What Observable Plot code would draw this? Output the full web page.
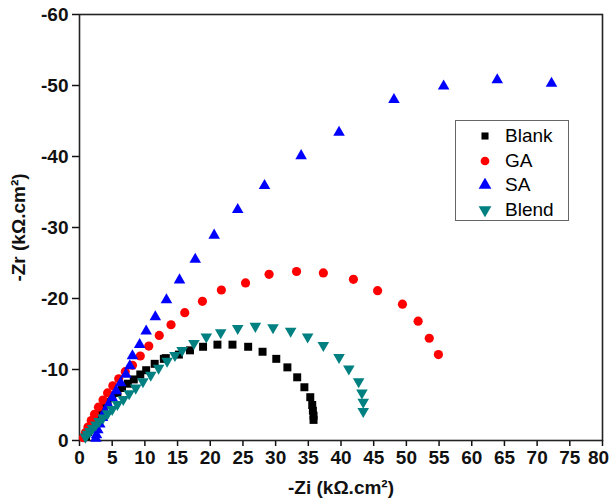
<!DOCTYPE html>
<html>
<head>
<meta charset="utf-8">
<script src="https://cdn.jsdelivr.net/npm/d3@7"></script>
<script src="https://cdn.jsdelivr.net/npm/@observablehq/plot@0.6"></script>
<style>
  body { margin: 0; background: #fff; }
  #wrap { position: relative; width: 611px; height: 502px; font-family: "Liberation Sans", Arial, sans-serif; }
  #legend { position: absolute; left: 455px; top: 120px; width: 112px; height: 99px; border: 1.5px solid #666; background: #fff; }
  .row { position: absolute; left: 0; height: 24px; display: flex; align-items: center; font-size: 19px; color: #000; }
  .row svg { margin-left: 22px; margin-right: 13px; }
</style>
</head>
<body>
<div id="wrap"></div>
<script>
// Series: -Zi (x, kΩ.cm²) and Zr (y, kΩ.cm², plotted as negative values)
const seriesNames = ["Blank", "GA", "SA", "Blend"];
const seriesColors = ["#000000", "#ff0000", "#0000ff", "#008080"];

const blankX = [1.0, 1.3, 1.7, 2.1, 2.6, 3.1, 3.7, 4.3, 5.0, 5.8, 6.5, 7.4, 8.3, 9.3, 10.2, 11.5, 12.9, 13.2, 15.2, 16.9, 18.9, 21.1, 23.4, 25.8, 28.0, 30.1, 31.8, 33.3, 34.4, 35.3, 35.6, 35.7, 35.8, 35.8];
const blankY = [-0.6, -1.2, -1.9, -2.6, -3.3, -4.0, -4.7, -5.4, -6.1, -6.7, -7.4, -8.0, -8.6, -9.3, -9.9, -10.8, -11.5, -11.6, -12.1, -12.7, -13.2, -13.5, -13.5, -13.2, -12.5, -11.5, -10.3, -8.9, -7.5, -6.1, -5.0, -4.2, -3.5, -2.9];

const gaX = [0.6, 0.9, 1.3, 1.8, 2.3, 2.9, 3.6, 4.3, 5.1, 6.0, 7.0, 8.1, 9.3, 10.6, 12.2, 14.0, 16.1, 18.8, 21.7, 25.4, 29.0, 33.2, 37.3, 41.9, 45.6, 49.4, 51.8, 53.5, 54.9];
const gaY = [-0.4, -1.1, -1.9, -2.8, -3.7, -4.7, -5.7, -6.7, -7.7, -8.7, -9.7, -10.6, -11.9, -13.3, -14.8, -16.3, -18.0, -19.6, -21.2, -22.2, -23.4, -23.8, -23.6, -22.7, -21.1, -19.2, -16.8, -14.4, -12.1];

const saX = [2.5, 2.6, 2.8, 3.1, 3.5, 3.9, 4.4, 5.0, 5.6, 6.3, 7.1, 7.7, 8.1, 9.2, 10.2, 11.6, 13.3, 15.3, 17.7, 20.6, 24.2, 28.3, 33.9, 39.7, 48.1, 55.7, 63.9, 72.2];
const saY = [-0.3, -0.8, -1.5, -2.3, -3.2, -4.1, -5.0, -6.0, -7.0, -8.1, -9.3, -10.5, -11.9, -13.5, -15.4, -17.4, -19.8, -22.6, -25.5, -28.9, -32.5, -35.9, -40.1, -43.4, -48.0, -49.9, -50.8, -50.3];

const blendX = [0.9, 1.2, 1.6, 2.0, 2.5, 3.0, 3.6, 4.3, 5.0, 5.8, 6.7, 7.6, 8.6, 9.7, 10.9, 12.1, 13.4, 14.6, 15.7, 17.5, 19.4, 21.6, 24.2, 26.9, 29.6, 32.3, 34.9, 37.3, 39.7, 41.2, 42.7, 43.2, 43.4, 43.4];
const blendY = [-0.5, -0.9, -1.3, -1.7, -2.2, -2.7, -3.2, -3.8, -4.4, -5.1, -5.8, -6.6, -7.4, -8.3, -9.2, -10.2, -11.2, -12.0, -12.7, -13.7, -14.6, -15.2, -15.8, -16.1, -15.9, -15.4, -14.6, -13.4, -11.7, -10.1, -8.3, -6.7, -5.4, -4.1];

const xTicks = [0, 5, 10, 15, 20, 25, 30, 35, 40, 45, 50, 55, 60, 65, 70, 75, 80];
const yTicks = [0, -10, -20, -30, -40, -50, -60];

const toRows = (xs, ys) => xs.map((x, i) => ({x, y: ys[i]}));
const blank = toRows(blankX, blankY);
const ga = toRows(gaX, gaY);
const sa = toRows(saX, saY);
const blend = toRows(blendX, blendY);

const chart = Plot.plot({
  width: 611,
  height: 502,
  marginLeft: 79,
  marginRight: 9,
  marginTop: 14,
  marginBottom: 62,
  style: {fontFamily: "'Liberation Sans', Arial, sans-serif", fontSize: "16px", fontWeight: "bold", color: "#111", background: "#fff"},
  x: {domain: [0, 80]},
  y: {domain: [0, -60]},
  marks: [
    Plot.axisX({ticks: xTicks, tickSize: 6, tickPadding: 4, tickFormat: d => String(d), label: "-Zi (kΩ.cm²)", labelAnchor: "center", labelArrow: "none", labelOffset: 53, strokeWidth: 1.5}),
    Plot.axisY({ticks: yTicks, tickSize: 7, tickPadding: 4, tickFormat: d => String(d), label: "-Zr (kΩ.cm²)", labelAnchor: "center", labelArrow: "none", labelOffset: 68, strokeWidth: 1.5}),
    Plot.frame({stroke: "#222", strokeWidth: 1.6}),
    Plot.dot(blank, {x: "x", y: "y", symbol: "square", fill: seriesColors[0], r: 4.5}),
    Plot.dot(ga, {x: "x", y: "y", symbol: "circle", fill: seriesColors[1], r: 4.6}),
    Plot.dot(sa, {x: "x", y: "y", symbol: "triangle", fill: seriesColors[2], r: 4.3}),
    Plot.dot(blend, {x: "x", y: "y", symbol: "triangle", rotate: 180, fill: seriesColors[3], r: 4.3})
  ]
});
chart.querySelectorAll("g[aria-label$='label'] text").forEach(t => t.setAttribute("font-size", "19"));
// keep the last x tick label inside the picture
const xTickTexts = chart.querySelectorAll("g[aria-label='x-axis tick label'] text");
if (xTickTexts.length) xTickTexts[xTickTexts.length - 1].setAttribute("dx", "-4");

const wrap = document.getElementById("wrap");
wrap.appendChild(chart);

// Legend
const legend = document.createElement("div");
legend.id = "legend";
const syms = [d3.symbolSquare, d3.symbolCircle, d3.symbolTriangle, d3.symbolTriangle];
const sizes = [50, 60, 70, 70];
seriesNames.forEach((name, i) => {
  const row = document.createElement("div");
  row.className = "row";
  row.style.top = (3 + i * 24.5) + "px";
  const svg = d3.create("svg").attr("width", 14).attr("height", 14);
  svg.append("path")
    .attr("d", d3.symbol(syms[i], sizes[i])())
    .attr("transform", `translate(7,7)${i === 3 ? " rotate(180)" : ""}`)
    .attr("fill", seriesColors[i]);
  row.appendChild(svg.node());
  const span = document.createElement("span");
  span.textContent = name;
  row.appendChild(span);
  legend.appendChild(row);
});
wrap.appendChild(legend);
</script>
</body>
</html>
